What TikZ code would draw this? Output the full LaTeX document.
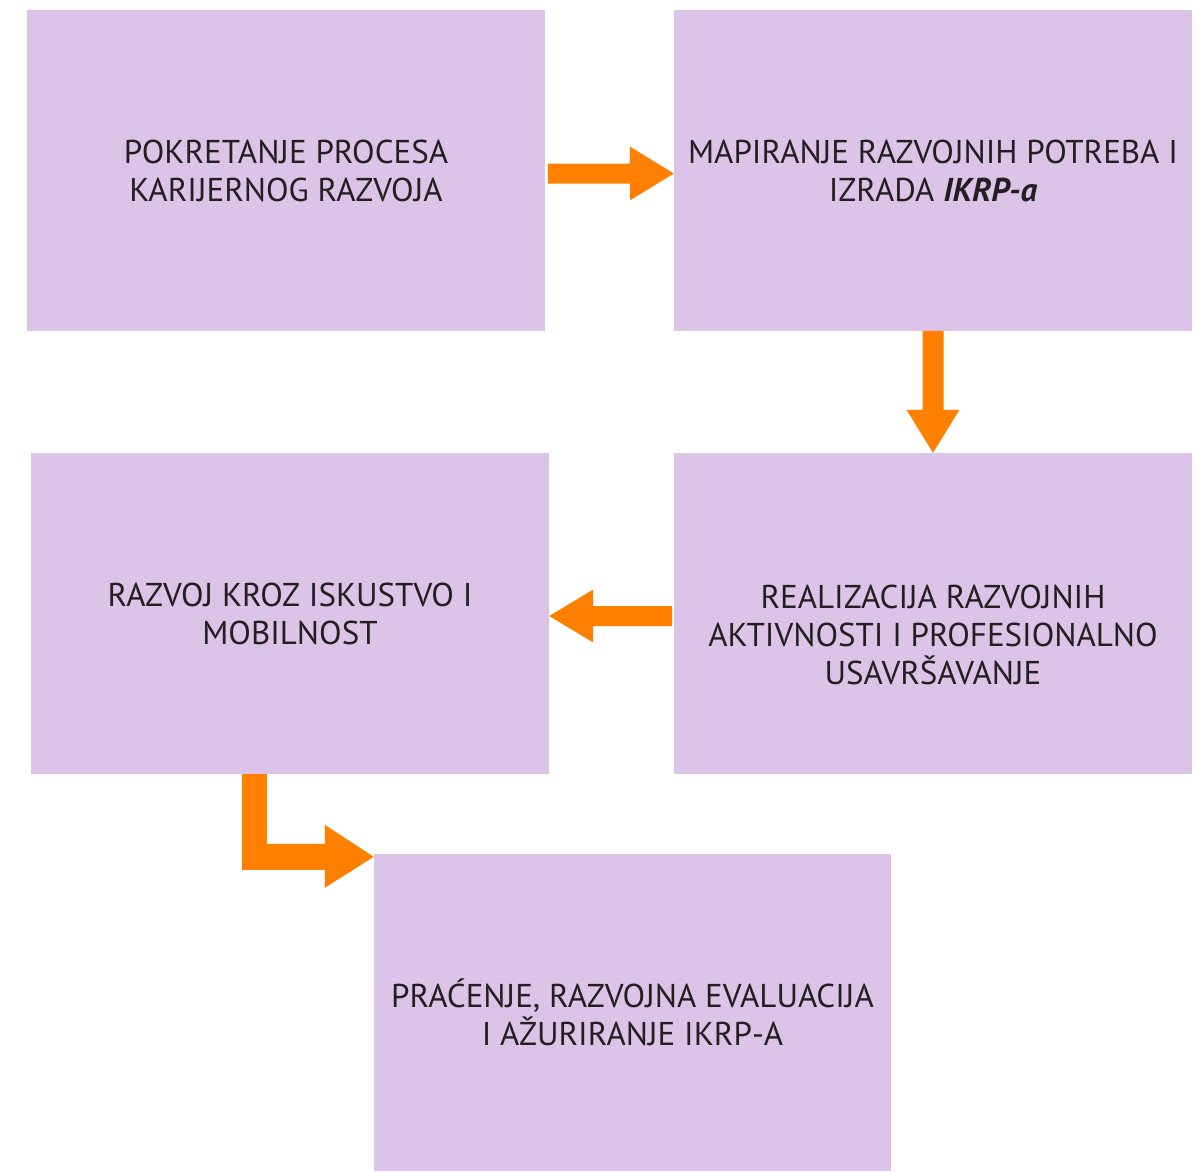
\documentclass[tikz,border=0pt]{standalone}
\usepackage{fontspec}
\setmainfont{PT Sans}
\usetikzlibrary{calc}
\definecolor{boxfill}{RGB}{220,196,232}
\definecolor{arrorange}{RGB}{255,128,0}
\definecolor{txtcol}{RGB}{35,31,32}
\tikzset{
  box/.style={fill=boxfill, draw=none, minimum width=518pt, minimum height=321pt, inner sep=0pt,
    align=center, font=\fontsize{33}{38}\selectfont, text=txtcol},
  txt/.style={align=center, font=\fontsize{33}{38}\selectfont, text=txtcol, inner sep=0pt},
  arr/.style={fill=arrorange, draw=none}
}
\begin{document}
\begin{tikzpicture}[x=1pt,y=-1pt]
\useasboundingbox (0,0) rectangle (1204,1171);
\node[box] (b1) at (286,170.5) {POKRETANJE PROCESA\\KARIJERNOG RAZVOJA};
\node[box] (b2) at (933,170.5) {MAPIRANJE RAZVOJNIH POTREBA I\\IZRADA \textbf{\textit{IKRP-a}}};
\node[box] (b3) at (290,613.5) {RAZVOJ KROZ ISKUSTVO I\\MOBILNOST};
\node[box] (b4) at (933,613.5) {};
\node[txt] (t4) at ($(b4.center)+(0,21)$) {REALIZACIJA RAZVOJNIH\\AKTIVNOSTI I PROFESIONALNO\\USAVRŠAVANJE};
\node[box, minimum width=517pt, minimum height=317pt] (b5) at (632.5,1012.5) {PRAĆENJE, RAZVOJNA EVALUACIJA\\I AŽURIRANJE IKRP-A};
% arrow b1 -> b2
\fill[arr] ($(b2.west)+(0,3)$) coordinate (p1)
  -- ($(p1)+(-44,-27)$) -- ($(p1)+(-44,-10)$) -- ($(p1)+(-126,-10)$)
  -- ($(p1)+(-126,10)$) -- ($(p1)+(-44,10)$) -- ($(p1)+(-44,27)$) -- cycle;
% arrow b2 -> b4
\fill[arr] (b4.north) coordinate (p2)
  -- ($(p2)+(-26.5,-43)$) -- ($(p2)+(-10.5,-43)$) -- ($(p2)+(-10.5,-122)$)
  -- ($(p2)+(10.5,-122)$) -- ($(p2)+(10.5,-43)$) -- ($(p2)+(26.5,-43)$) -- cycle;
% arrow b4 -> b3
\fill[arr] ($(b3.east)+(0,2.5)$) coordinate (p3)
  -- ($(p3)+(44,-26.5)$) -- ($(p3)+(44,-10)$) -- ($(p3)+(123,-10)$)
  -- ($(p3)+(123,10)$) -- ($(p3)+(44,10)$) -- ($(p3)+(44,26.5)$) -- cycle;
% elbow arrow b3 -> b5
\fill[arr] ($(b5.north west)+(0,3)$) coordinate (p4)
  -- ($(p4)+(-49,-32)$) -- ($(p4)+(-49,-13)$) -- ($(p4)+(-107,-13)$)
  |- ($(b3.south)+(-23,0)$) -- ($(b3.south)+(-48,0)$) -- ($(p4)+(-132,13)$)
  -- ($(p4)+(-49,13)$) -- ($(p4)+(-49,31)$) -- cycle;
\end{tikzpicture}
\end{document}
